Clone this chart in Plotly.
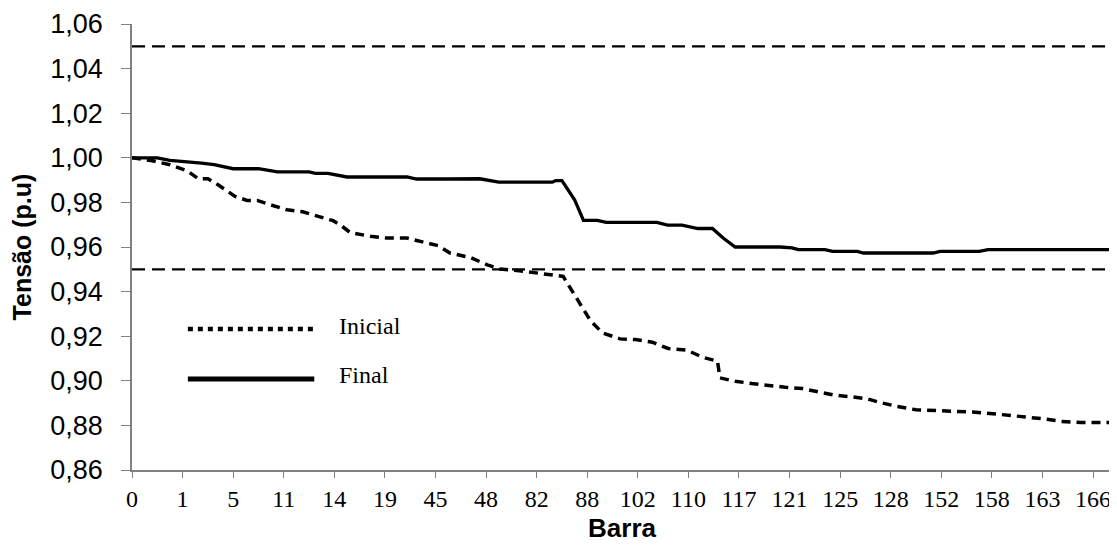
import plotly.graph_objects as go

# Category axis: 156 categories (bus order), labelled every 8th category
tick_labels = ["0", "1", "5", "11", "14", "19", "45", "48", "82", "88",
               "102", "110", "117", "121", "125", "128", "152", "158", "163", "166"]
n_categories = 156
label_step = 8

# Final voltage profile (category index, p.u.)
final_idx = [0, 4, 6, 9, 11, 13, 16, 20, 23, 28, 29, 31, 34, 43.5, 45, 50, 55, 58, 66.5,
             67, 68, 70, 71.4, 73.6, 75, 83, 84.7, 87, 89.5, 91.8, 93.5, 95.4, 102.5,
             104.4, 105.4, 109.6, 110.8, 114.7, 115.7, 126.7, 127.8, 134, 135.4, 155]
final_v = [1.000, 1.000, 0.9988, 0.9983, 0.9976, 0.9969, 0.9951, 0.9951, 0.9937, 0.9937,
           0.9930, 0.9930, 0.9914, 0.9914, 0.9905, 0.9905, 0.9906, 0.9891, 0.9891,
           0.9898, 0.9898, 0.9812, 0.9719, 0.9719, 0.9710, 0.9710, 0.9698, 0.9698,
           0.9683, 0.9683, 0.9640, 0.9600, 0.9600,
           0.9596, 0.9588, 0.9588, 0.9580, 0.9580, 0.9573, 0.9573, 0.9580, 0.9580, 0.9588, 0.9588]

# Initial voltage profile (category index, p.u.)
inicial_idx = [0, 3, 6, 8.7, 10.5, 12, 13.6, 16.3, 18.2, 19.8, 21.8, 24.5, 27, 29.7, 31.8,
               32.9, 34.5, 37.7, 40.3, 43.5, 45.6, 48.4, 50.3, 53.5, 56.2, 58.2, 60.9, 64,
               66.6, 68.2, 69, 70.4, 72.5, 74.4, 77.2, 79.6, 82.3, 84.8, 87.8, 90.2, 92.6,
               93, 95.4, 98, 100.6, 103.3, 106, 108.5, 111.2, 114, 116.3, 118, 121, 124,
               128, 133, 137, 141, 144, 147, 150, 155]
inicial_v = [1.000, 0.9988, 0.9969, 0.9942, 0.9906, 0.9906, 0.9879, 0.9827, 0.9809, 0.9809,
             0.9790, 0.9767, 0.9758, 0.9737, 0.9718, 0.9700, 0.9665, 0.9648, 0.9640, 0.9640,
             0.9625, 0.9606, 0.9573, 0.9553, 0.9520, 0.9501, 0.9495, 0.9483, 0.9476, 0.9468,
             0.9431, 0.9364, 0.9270, 0.9215, 0.9188, 0.9185, 0.9173, 0.9145, 0.9137, 0.9106,
             0.9088, 0.9013, 0.8998, 0.8988, 0.8979, 0.8971, 0.8965, 0.8950, 0.8935, 0.8928,
             0.8919, 0.8905, 0.8885, 0.8870, 0.8865, 0.8860, 0.8850, 0.8840, 0.8830, 0.8818,
             0.8813, 0.8813]

limits = [0.95, 1.05]

fig = go.Figure()

fig.add_trace(go.Scatter(x=inicial_idx, y=inicial_v, mode="lines", name="Inicial",
                         line=dict(color="black", width=3.5, dash="9px,6px"),
                         showlegend=False))
fig.add_trace(go.Scatter(x=final_idx, y=final_v, mode="lines", name="Final",
                         line=dict(color="black", width=3.3),
                         showlegend=False))

for lim in limits:
    fig.add_shape(type="line", xref="paper", x0=0, x1=1, yref="y", y0=lim, y1=lim,
                  line=dict(color="black", width=2.2, dash="13px,7px"), layer="below")

# Manual legend (Excel style)
fig.add_shape(type="line", xref="paper", yref="paper", x0=0.057, x1=0.186, y0=0.316, y1=0.316,
              line=dict(color="black", width=4.5, dash="5px,5px"))
fig.add_shape(type="line", xref="paper", yref="paper", x0=0.057, x1=0.186, y0=0.204, y1=0.204,
              line=dict(color="black", width=5))
fig.add_annotation(text="Inicial", xref="paper", yref="paper", x=0.209, y=0.322,
                   xanchor="left", yanchor="middle", showarrow=False,
                   font=dict(family="Liberation Serif", size=24, color="black"))
fig.add_annotation(text="Final", xref="paper", yref="paper", x=0.209, y=0.212,
                   xanchor="left", yanchor="middle", showarrow=False,
                   font=dict(family="Liberation Serif", size=24, color="black"))

tickvals = [i * label_step for i in range(len(tick_labels))]

# The page body adds an 8px offset, so the figure is sized/margined to compensate
fig.update_layout(
    width=1109, height=537,
    margin=dict(l=124, r=5, t=16, b=75),
    plot_bgcolor="white", paper_bgcolor="white",
    separators=",.",
    showlegend=False,
)
fig.update_xaxes(
    automargin=False,
    range=[0, n_categories - 1], tickmode="array", tickvals=tickvals, ticktext=tick_labels,
    showgrid=False, zeroline=False, showline=True, linecolor="#808080", linewidth=1.5,
    ticks="outside", ticklen=6, tickcolor="#808080",
    tickfont=dict(family="Liberation Serif", size=24, color="black"),
    title=dict(text="<b>Barra</b>", font=dict(family="Liberation Sans", size=26, color="black"),
               standoff=8),
)
fig.update_yaxes(
    automargin=False,
    range=[0.86, 1.06], dtick=0.02, tick0=0.86, tickformat=".2f",
    showgrid=False, zeroline=False, showline=True, linecolor="#808080", linewidth=1.5,
    ticks="outside", ticklen=9, tickcolor="#808080", ticklabelstandoff=13,
    tickfont=dict(family="Liberation Sans", size=27, color="black"),
    title=dict(text="<b>Tensão (p.u)</b>", font=dict(family="Liberation Sans", size=25, color="black"),
               standoff=13),
)

fig.write_html("out.html")
